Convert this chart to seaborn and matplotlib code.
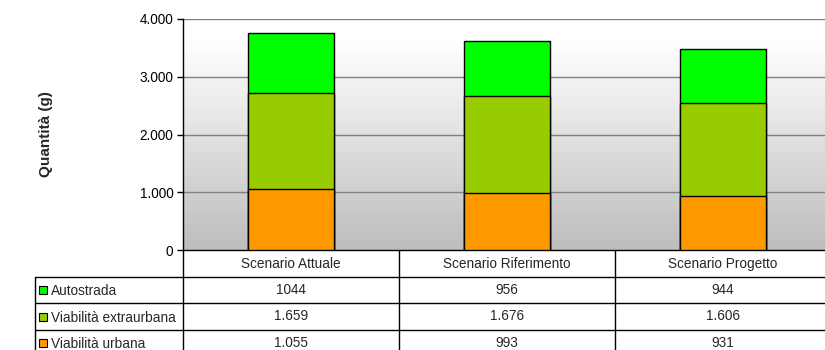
import numpy as np
import pandas as pd
import matplotlib
matplotlib.use("Agg")
import matplotlib.pyplot as plt
from matplotlib.patches import Rectangle
from matplotlib.colors import LinearSegmentedColormap
import seaborn as sns

# Data
scenarios = ["Scenario Attuale", "Scenario Riferimento", "Scenario Progetto"]
autostrada = [1044, 956, 944]
extraurbana = [1659, 1676, 1606]
urbana = [1055, 993, 931]
series_names = ["Autostrada", "Viabilità extraurbana", "Viabilità urbana"]
series_colors = ["#00FF00", "#99CC00", "#FF9900"]
yticks = [0, 1000, 2000, 3000, 4000]

sns.set_style("white")
plt.rcParams["font.family"] = ["Liberation Sans", "DejaVu Sans"]

FS = 9.8
W, H = 825, 350
fig = plt.figure(figsize=(W / 100, H / 100), dpi=100)
fig.patch.set_facecolor("white")

# plot area (extends slightly past the right edge of the figure)
ax = fig.add_axes([183 / W, 100 / H, 648 / W, 231 / H])

# gradient background: white at the top, grey at the bottom
cmap = LinearSegmentedColormap.from_list("bg", [(0, "#bdbdbd"), (0.9, "#ffffff"), (1, "#ffffff")])
grad = np.linspace(0, 1, 256).reshape(-1, 1)
ax.imshow(grad, cmap=cmap, aspect="auto", extent=[0, 1, 0, 1], origin="lower",
          transform=ax.transAxes, zorder=0)

df = pd.DataFrame({"scenario": scenarios, "Autostrada": autostrada,
                   "extra": extraurbana, "urbana": urbana})
df["c_urb"] = df["urbana"]
df["c_ext"] = df["urbana"] + df["extra"]
df["c_aut"] = df["c_ext"] + df["Autostrada"]

# stacked bars: draw cumulative totals from the top layer down
for col, color in zip(["c_aut", "c_ext", "c_urb"], series_colors):
    sns.barplot(data=df, x="scenario", y=col, order=scenarios, color=color,
                edgecolor="black", linewidth=1.0, width=0.4, saturation=1,
                ax=ax, zorder=3)

ax.set_xlim(-0.5, 2.5)
ax.set_ylim(0, 4000)
ax.set_yticks(yticks)
ax.set_yticklabels([f"{v:,}".replace(",", ".") for v in yticks], fontsize=FS)
ax.set_xticks([])
ax.set_xlabel("")
ax.set_ylabel("Quantità (g)", fontsize=11, fontweight="bold", labelpad=62)
for v in yticks[1:]:
    ax.axhline(v, color="#808080", lw=1, zorder=1)
for s in ["top", "right"]:
    ax.spines[s].set_visible(False)
for s in ["left", "bottom"]:
    ax.spines[s].set_color("black")
    ax.spines[s].set_linewidth(1)
ax.tick_params(axis="y", direction="out", length=4, width=1, color="black",
               left=True, pad=3, labelcolor="black")

# data table below the plot, drawn in pixel coordinates
tab = fig.add_axes([0, 0, 1, 1], zorder=5)
tab.set_xlim(0, W)
tab.set_ylim(H, 0)
tab.axis("off")

fig.canvas.draw()
def px(xd):
    return ax.transData.transform((xd, 0))[0]

col_edges = [px(i - 0.5) for i in range(len(scenarios) + 1)]
y0 = H - ax.transData.transform((0, 0))[1]
row_h = 26.7
label_left = 35
rows_y = [y0 + row_h * k for k in range(5)]

lw = 1.0
# header row
tab.plot([col_edges[0], col_edges[-1]], [rows_y[1], rows_y[1]], color="black", lw=lw)
for e in col_edges:
    tab.plot([e, e], [y0, H + 10], color="black", lw=lw)
# data rows
for k in range(2, 5):
    tab.plot([label_left, col_edges[-1]], [rows_y[k], rows_y[k]], color="black", lw=lw)
tab.plot([label_left, col_edges[0]], [rows_y[1], rows_y[1]], color="black", lw=lw)
tab.plot([label_left, label_left], [rows_y[1], H + 10], color="black", lw=lw)

for i, sc in enumerate(scenarios):
    cx = (col_edges[i] + col_edges[i + 1]) / 2
    tab.text(cx, (rows_y[0] + rows_y[1]) / 2 + 0.5, sc, ha="center", va="center", fontsize=FS)

def fmt(v, sep):
    return f"{v:,}".replace(",", ".") if sep else str(v)

table_rows = [(autostrada, False), (extraurbana, True), (urbana, True)]
for r, ((vals, sep), name, color) in enumerate(zip(table_rows, series_names, series_colors)):
    yc = (rows_y[r + 1] + rows_y[r + 2]) / 2 + 1
    tab.add_patch(Rectangle((39, yc - 5), 8, 8, facecolor=color, edgecolor="black", lw=0.8))
    tab.text(51, yc, name, ha="left", va="center", fontsize=FS)
    for i, v in enumerate(vals):
        cx = (col_edges[i] + col_edges[i + 1]) / 2
        tab.text(cx, yc - 1.5, fmt(v, sep), ha="center", va="center", fontsize=FS)

fig.savefig("out.png", dpi=100, facecolor="white")
